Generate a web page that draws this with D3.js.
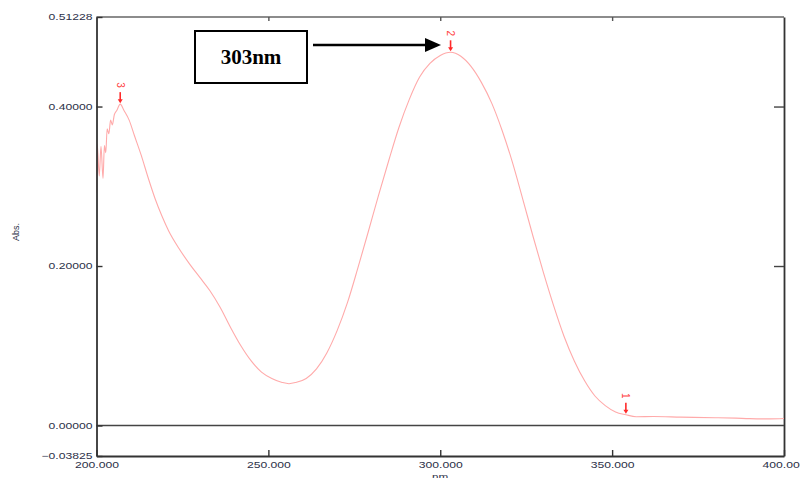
<!DOCTYPE html>
<html>
<head>
<meta charset="utf-8">
<script src="https://cdn.jsdelivr.net/npm/d3@7"></script>
<style>
    body { margin: 0; background: #fff; }
    svg text { font-family: 'Liberation Sans', Arial, sans-serif; }
</style>
</head>
<body>
<div id="chart"></div>
<script>
//spectrum: wavelength (nm) and absorbance
var wavelength = [200.0, 200.2, 200.8, 201.3, 201.9, 202.3, 202.7, 203.1, 203.6, 204.1, 204.6, 205.2, 205.9, 206.9,
    208, 209.5, 211, 213, 215, 217, 219, 221, 224, 227, 230, 233, 236, 239, 242, 245, 248, 251, 254, 256, 258,
    261, 264, 267, 270, 273, 276, 279, 282, 285, 288, 291, 294, 297, 300, 303, 306, 309, 312, 315, 318, 321,
    324, 327, 330, 333, 336, 339, 342, 345, 348, 351, 354, 357, 362, 370, 380, 386, 390, 396, 400];
var absorbance = [0.292, 0.353, 0.313, 0.350, 0.310, 0.351, 0.342, 0.372, 0.366, 0.383, 0.377, 0.390, 0.395, 0.403,
    0.395, 0.383, 0.364, 0.339, 0.311, 0.285, 0.263, 0.244, 0.222, 0.203, 0.186, 0.169, 0.148, 0.123, 0.100, 0.081,
    0.067, 0.059, 0.054, 0.0524, 0.054, 0.059, 0.071, 0.091, 0.119, 0.154, 0.197, 0.242, 0.288, 0.332, 0.374,
    0.409, 0.437, 0.454, 0.464, 0.468, 0.463, 0.450, 0.430, 0.404, 0.370, 0.330, 0.284, 0.237, 0.192, 0.150,
    0.112, 0.081, 0.056, 0.037, 0.025, 0.017, 0.0135, 0.011, 0.0112, 0.0105, 0.0098, 0.0092, 0.0086, 0.0083, 0.0088];

//picked peaks
var peakNm = [354, 303, 206.9];
var peakLabels = ['1', '2', '3'];

//axis ticks
var xTicks = [200, 250, 300, 350, 400];
var yTicks = [-0.03825, 0, 0.2, 0.4, 0.51228];

var width = 800, height = 478;
var plotLeft = 96.5, plotRight = 784, plotTop = 17, plotBottom = 456;

var svg = d3.select('#chart').append('svg')
    .attr('width', width)
    .attr('height', height);

var defs = svg.append('defs');
defs.append('clipPath').attr('id', 'plot')
    .append('rect').attr('x', plotLeft).attr('y', plotTop)
    .attr('width', plotRight - plotLeft).attr('height', plotBottom - plotTop);

var x = d3.scaleLinear().domain([200, 400]).range([plotLeft, plotRight]);
var y = d3.scaleLinear().domain([-0.03825, 0.51228]).range([plotBottom, plotTop]);

var points = wavelength.map(function (w, i) {
    return [w, absorbance[i]];
});

//the instrument font is wide and short: stretch the glyphs sideways
function widen(sel, factor) {
    sel.each(function () {
        var len = this.getComputedTextLength();
        d3.select(this)
            .attr('textLength', len * factor)
            .attr('lengthAdjust', 'spacingAndGlyphs');
    });
}

//frame line on top
svg.append('line')
    .attr('x1', plotLeft).attr('x2', plotRight).attr('y1', plotTop).attr('y2', plotTop)
    .attr('stroke', '#666').attr('stroke-width', 1.6);

//top ticks (inward, no labels)
svg.append('g')
    .attr('transform', 'translate(0,' + plotTop + ')')
    .call(d3.axisTop(x).tickValues([250, 300, 350]).tickSize(-4).tickSizeOuter(0).tickFormat(''))
    .call(function (g) {
        g.select('.domain').remove();
        g.selectAll('line').attr('stroke', '#555').attr('stroke-width', 1.4);
    });

//right axis
svg.append('g')
    .attr('transform', 'translate(' + plotRight + ',0)')
    .call(d3.axisRight(y).tickValues([0.2, 0.4]).tickSize(-10).tickSizeOuter(0).tickFormat(''))
    .call(function (g) {
        g.select('.domain').attr('stroke', '#333').attr('stroke-width', 1.8);
        g.selectAll('line').attr('stroke', '#444').attr('stroke-width', 1.4);
    });

//zero line
svg.append('line')
    .attr('x1', plotLeft).attr('x2', plotRight).attr('y1', y(0)).attr('y2', y(0))
    .attr('stroke', '#444').attr('stroke-width', 1.4);

//spectrum
svg.append('path')
    .datum(points)
    .attr('clip-path', 'url(#plot)')
    .attr('fill', 'none')
    .attr('stroke', '#ffaaaa')
    .attr('stroke-width', 1.1)
    .attr('d', d3.line()
        .curve(d3.curveMonotoneX)
        .x(function (d) { return x(d[0]); })
        .y(function (d) { return y(d[1]); }));

//left axis
svg.append('g')
    .attr('transform', 'translate(' + plotLeft + ',0)')
    .call(d3.axisLeft(y).tickValues(yTicks).tickSize(-6).tickSizeOuter(0).tickPadding(4)
        .tickFormat(d3.format('.5f')))
    .call(function (g) {
        g.select('.domain').attr('stroke', '#333').attr('stroke-width', 1.8);
        g.selectAll('line').attr('stroke', '#333').attr('stroke-width', 1.4);
        g.selectAll('text').attr('fill', '#2c3048').style('font-size', '9px')
            .style('font-family', "'Liberation Sans', Arial, sans-serif")
            .call(widen, 1.35);
    });

//bottom axis
svg.append('g')
    .attr('transform', 'translate(0,' + plotBottom + ')')
    .call(d3.axisBottom(x).tickValues(xTicks).tickSize(-6).tickSizeOuter(0).tickPadding(6)
        .tickFormat(d3.format('.3f')))
    .call(function (g) {
        g.select('.domain').attr('stroke', '#333').attr('stroke-width', 1.8);
        g.selectAll('line').attr('stroke', '#333').attr('stroke-width', 1.4);
        g.selectAll('text').attr('fill', '#2c3048').style('font-size', '9px')
            .style('font-family', "'Liberation Sans', Arial, sans-serif")
            .call(widen, 1.35);
    });

//axis titles
svg.append('text')
    .attr('x', x(300)).attr('y', 480)
    .attr('text-anchor', 'middle')
    .attr('fill', '#2c3048').style('font-size', '9px')
    .text('nm')
    .call(widen, 1.3);
svg.append('text')
    .attr('transform', 'translate(19,232) rotate(-90)')
    .attr('text-anchor', 'middle')
    .attr('fill', '#2c3048').style('font-size', '9px')
    .text('Abs.');

//peak markers: rotated number with a small down arrow
var peakGroup = svg.append('g').attr('class', 'peaks');
peakNm.forEach(function (p, i) {
    var px = x(p);
    var py = y(d3.least(points, function (d) { return Math.abs(d[0] - p); })[1]);
    peakGroup.append('line')
        .attr('x1', px).attr('x2', px)
        .attr('y1', py - 12).attr('y2', py - 3)
        .attr('stroke', '#ff2a2a').attr('stroke-width', 1.6);
    peakGroup.append('path')
        .attr('d', 'M' + (px - 2.5) + ',' + (py - 5) + 'L' + (px + 2.5) + ',' + (py - 5) + 'L' + px + ',' + (py - 1) + 'Z')
        .attr('fill', '#ff2a2a');
    peakGroup.append('text')
        .attr('transform', 'translate(' + (px - 3.5) + ',' + (py - 19) + ') rotate(90)')
        .attr('text-anchor', 'middle')
        .attr('fill', '#ff4040').style('font-size', '10px')
        .text(peakLabels[i]);
});

//annotation box with arrow
svg.append('rect')
    .attr('x', 195).attr('y', 31).attr('width', 112).attr('height', 52)
    .attr('fill', '#fff').attr('stroke', '#000').attr('stroke-width', 2);
svg.append('text')
    .attr('x', 251).attr('y', 64)
    .attr('text-anchor', 'middle')
    .style('font-family', "'Liberation Serif', 'Times New Roman', serif")
    .style('font-weight', 'bold').style('font-size', '21px')
    .attr('fill', '#000')
    .text('303nm');
svg.append('line')
    .attr('x1', 313).attr('x2', 427).attr('y1', 45).attr('y2', 45)
    .attr('stroke', '#000').attr('stroke-width', 2.4);
svg.append('path')
    .attr('d', 'M425,38L441,45L425,52Z')
    .attr('fill', '#000');
</script>
</body>
</html>
